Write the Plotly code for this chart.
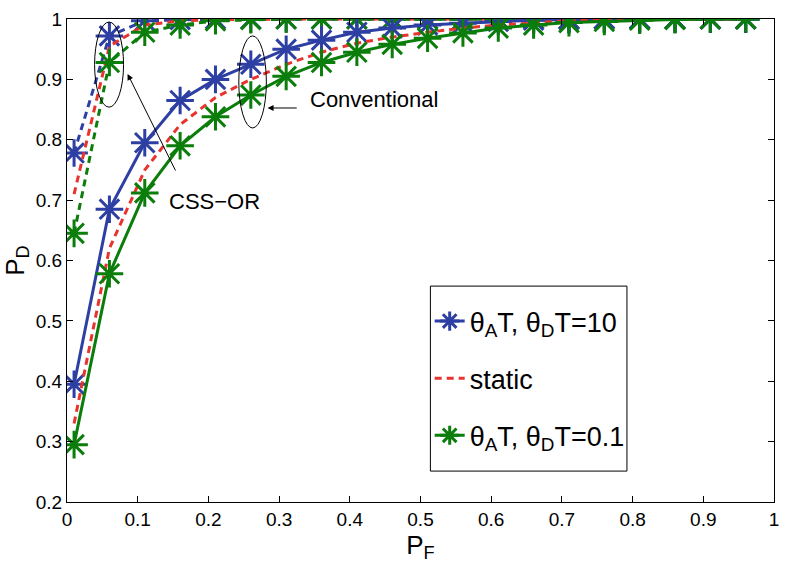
import plotly.graph_objects as go

pf = [0.01, 0.06, 0.11, 0.16, 0.21, 0.26, 0.31, 0.36, 0.41, 0.46,
      0.51, 0.56, 0.61, 0.66, 0.71, 0.76, 0.81, 0.86, 0.91, 0.96]

# Conventional
conv_fast = [0.395, 0.685, 0.795, 0.865, 0.900, 0.925, 0.950, 0.965, 0.978, 0.985,
             0.990, 0.993, 0.996, 0.998, 0.999, 1.0, 1.0, 1.0, 1.0, 1.0]
conv_static = [0.33, 0.62, 0.75, 0.825, 0.870, 0.900, 0.925, 0.945, 0.960, 0.970,
               0.978, 0.985, 0.990, 0.994, 0.997, 0.998, 0.999, 1.0, 1.0, 1.0]
conv_slow = [0.295, 0.578, 0.712, 0.790, 0.838, 0.874, 0.905, 0.928, 0.945, 0.958,
             0.968, 0.977, 0.985, 0.990, 0.994, 0.996, 0.998, 0.999, 1.0, 1.0]

# CSS-OR
css_fast = [0.778, 0.972, 0.997, 0.999, 1.0, 1.0, 1.0, 1.0, 1.0, 1.0,
            1.0, 1.0, 1.0, 1.0, 1.0, 1.0, 1.0, 1.0, 1.0, 1.0]
css_static = [0.71, 0.955, 0.990, 0.997, 0.999, 1.0, 1.0, 1.0, 1.0, 1.0,
              1.0, 1.0, 1.0, 1.0, 1.0, 1.0, 1.0, 1.0, 1.0, 1.0]
css_slow = [0.645, 0.928, 0.978, 0.990, 0.997, 0.999, 1.0, 1.0, 1.0, 1.0,
            1.0, 1.0, 1.0, 1.0, 1.0, 1.0, 1.0, 1.0, 1.0, 1.0]

x_ticks = [0, 0.1, 0.2, 0.3, 0.4, 0.5, 0.6, 0.7, 0.8, 0.9, 1]
x_tick_labels = ["0", "0.1", "0.2", "0.3", "0.4", "0.5", "0.6", "0.7", "0.8", "0.9", "1"]
y_ticks = [0.2, 0.3, 0.4, 0.5, 0.6, 0.7, 0.8, 0.9, 1]
y_tick_labels = ["0.2", "0.3", "0.4", "0.5", "0.6", "0.7", "0.8", "0.9", "1"]

BLUE = "#2E3FA3"
RED = "#E8342F"
GREEN = "#0A7D0A"
FONT = "Liberation Sans Narrow, Liberation Sans, Arial, sans-serif"

LBL_FAST = "θ<sub>A</sub>T, θ<sub>D</sub>T=10"
LBL_STATIC = "static"
LBL_SLOW = "θ<sub>A</sub>T, θ<sub>D</sub>T=0.1"

fig = go.Figure()

def star(color):
    return dict(symbol="asterisk-open", size=23, color=color,
                line=dict(color=color, width=3))

DASH = "7px,5px"

# CSS-OR (dashed)
fig.add_trace(go.Scatter(x=pf, y=css_fast, mode="lines+markers", showlegend=False,
                         line=dict(color=BLUE, width=3, dash=DASH), marker=star(BLUE)))
fig.add_trace(go.Scatter(x=pf, y=css_static, mode="lines", showlegend=False,
                         line=dict(color=RED, width=3, dash=DASH)))
fig.add_trace(go.Scatter(x=pf, y=css_slow, mode="lines+markers", showlegend=False,
                         line=dict(color=GREEN, width=3, dash=DASH), marker=star(GREEN)))
# Conventional (solid)
fig.add_trace(go.Scatter(x=pf, y=conv_fast, mode="lines+markers", name=LBL_FAST,
                         legendgroup="a",
                         line=dict(color=BLUE, width=3), marker=star(BLUE)))
fig.add_trace(go.Scatter(x=pf, y=conv_static, mode="lines", name=LBL_STATIC,
                         legendgroup="b",
                         line=dict(color=RED, width=3, dash=DASH)))
fig.add_trace(go.Scatter(x=pf, y=conv_slow, mode="lines+markers", name=LBL_SLOW,
                         legendgroup="c",
                         line=dict(color=GREEN, width=3), marker=star(GREEN)))

# ellipses
fig.add_shape(type="circle", xref="x", yref="y", x0=0.039, x1=0.080, y0=0.854, y1=0.995,
              line=dict(color="black", width=1))
fig.add_shape(type="circle", xref="x", yref="y", x0=0.243, x1=0.282, y0=0.8195, y1=0.972,
              line=dict(color="black", width=1))

# legend frame
fig.add_shape(type="rect", xref="paper", yref="paper", x0=0.514, x1=0.792,
              y0=0.064, y1=0.447, layer="above", fillcolor="white",
              line=dict(color="black", width=1))

# arrows
fig.add_annotation(x=0.2837, y=0.8526, ax=0.327, ay=0.8526, xref="x", yref="y",
                   axref="x", ayref="y", text="", showarrow=True, arrowhead=2,
                   arrowsize=1.2, arrowwidth=1, arrowcolor="black")
fig.add_annotation(x=0.0857, y=0.909, ax=0.1545, ay=0.7466, xref="x", yref="y",
                   axref="x", ayref="y", text="", showarrow=True, arrowhead=2,
                   arrowsize=1.2, arrowwidth=1, arrowcolor="black")
fig.add_annotation(x=0.341, y=0.866, xref="x", yref="y", text="Conventional",
                   showarrow=False, xanchor="left", yanchor="middle",
                   font=dict(family=FONT, size=22, color="black"))
fig.add_annotation(x=0.142, y=0.697, xref="x", yref="y", text="CSS−OR",
                   showarrow=False, xanchor="left", yanchor="middle",
                   font=dict(family=FONT, size=22, color="black"))

axis_common = dict(showgrid=False, zeroline=False, showline=True, linecolor="black",
                   linewidth=1, mirror="ticks", ticks="inside", ticklen=6,
                   tickcolor="black", tickwidth=1,
                   tickfont=dict(family=FONT, size=19, color="black"))

fig.update_xaxes(range=[0, 1], tickvals=x_ticks, ticktext=x_tick_labels,
                 title=dict(text="P<sub>F</sub>", font=dict(family=FONT, size=26), standoff=4),
                 **axis_common)
fig.update_yaxes(range=[0.2, 1], tickvals=y_ticks, ticktext=y_tick_labels,
                 title=dict(text="P<sub>D</sub>", font=dict(family=FONT, size=26), standoff=6),
                 **axis_common)

fig.update_layout(
    width=786, height=573,
    margin=dict(l=67, r=7, t=19, b=71),
    plot_bgcolor="white", paper_bgcolor="white",
    font=dict(family=FONT, color="black"),
    legend=dict(x=0.513, y=0.4244, xanchor="left", yanchor="top",
                bgcolor="rgba(0,0,0,0)", borderwidth=0,
                font=dict(family=FONT, size=27, color="black"),
                itemwidth=30, tracegroupgap=19, traceorder="grouped"),
)

fig.write_html("out.html")
